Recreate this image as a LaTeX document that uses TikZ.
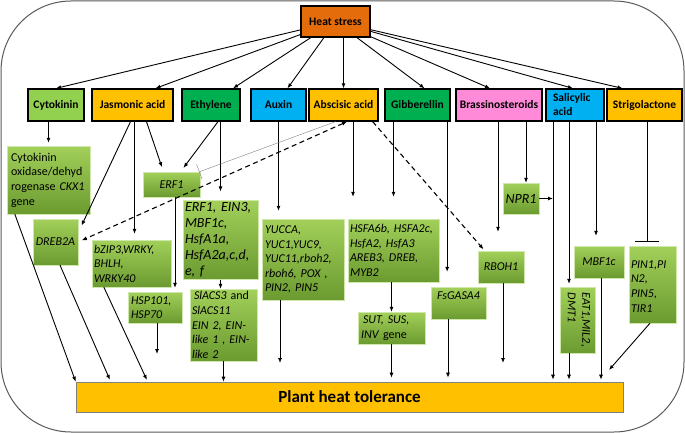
\documentclass[tikz,border=0pt]{standalone}
\usepackage{fontspec}
\usepackage{graphicx}
\setmainfont{Carlito}
\usetikzlibrary{positioning}
\usetikzlibrary{arrows.meta}
\definecolor{heatorange}{HTML}{E46C0A}
\definecolor{jasyellow}{HTML}{FFC000}
\definecolor{ethgreen}{HTML}{00B050}
\definecolor{cytgreen}{HTML}{92D050}
\definecolor{auxblue}{HTML}{00B0F0}
\definecolor{brapink}{HTML}{FF8AD8}
\definecolor{genetop}{HTML}{A2D05A}
\definecolor{genebot}{HTML}{6B9A30}
\definecolor{framegray}{HTML}{595959}
\tikzset {
  % hormone boxes
  hormone/.style={draw=black, line width=1.3pt, minimum height=32pt, inner sep=1pt,
    font=\bfseries\fontsize{11.5}{12}\selectfont},
  % gene boxes with green gradient
  gene/.style={top color=genetop, bottom color=genebot, draw=genetop!50!white,
    line width=0.3pt, inner xsep=3pt, inner ysep=2pt, align=left,
    font=\itshape\fontsize{12}{14.6}\selectfont},
  genebig/.style={gene, font=\itshape\fontsize{14}{16}\selectfont},
  geneup/.style={gene, font=\fontsize{12}{14.6}\selectfont},
  % connectors
  arr/.style={-{Latex[length=5pt,width=4pt]}, line width=0.9pt},
  dasharr/.style={arr, dash pattern=on 5pt off 3.5pt, line width=1.1pt},
  inhib/.style={-{Bar[width=16pt]}, line width=0.4pt, gray},
  inhibbold/.style={-{Bar[width=24pt]}, line width=0.9pt},
}
\begin{document}
\begin{tikzpicture}[x=1pt, y=-1pt]
  \useasboundingbox (0,0) rectangle (685,433);
  \draw[framegray, line width=1pt, rounded corners=70pt] (1,1) rectangle (684,432);

  % top
  \node[hormone, fill=heatorange, minimum width=69pt, minimum height=31pt] (heat) at (335.5,21.5) {Heat stress};

  % hormones
  \node[hormone, fill=cytgreen, minimum width=56pt] (cyt) at (56,105) {Cytokinin};
  \node[hormone, fill=jasyellow, minimum width=81pt] (jas) at (132.5,105) {Jasmonic acid};
  \node[hormone, fill=ethgreen, minimum width=58pt] (eth) at (211,105) {Ethylene};
  \node[hormone, fill=auxblue, minimum width=55pt] (aux) at (278.5,105) {Auxin};
  \node[hormone, fill=jasyellow, minimum width=69pt] (abs) at (343.5,105) {Abscisic acid};
  \node[hormone, fill=ethgreen, minimum width=65pt] (gib) at (417.5,105) {Gibberellin};
  \node[hormone, fill=brapink, minimum width=86pt] (bra) at (499,105) {Brassinosteroids};
  \node[hormone, fill=auxblue, text width=44pt, inner xsep=7pt, align=left,
    font=\bfseries\fontsize{11.5}{14}\selectfont] (sal) at (575,105) {Salicylic\\acid};
  \node[hormone, fill=jasyellow, minimum width=75pt] (str) at (644.5,105) {Strigolactone};

  % genes
  \node[geneup, text width=75pt, inner xsep=4pt, minimum height=68pt] (ckx) at (48.5,180)
    {Cytokinin\\oxidase/dehyd\\rogenase \textit{CKX1}\\gene};
  \node[gene, align=center, minimum width=57pt, minimum height=25pt] (erfa) at (171.5,184.5) {ERF1};
  \node[gene, align=center, minimum width=45pt, minimum height=46pt, inner xsep=1pt] (dreb) at (55.5,242) {DREB2A};
  \node[gene, text width=75pt, inner xsep=2pt, minimum height=47pt] (bzip) at (131.5,263.5) {bZIP3,WRKY,\\BHLH,\\WRKY40};
  \node[genebig, text width=71pt, inner xsep=2pt, minimum height=76pt] (erfb) at (220.5,240)
    {ERF1, EIN3,\\MBF1c,\\HsfA1a,\\HsfA2a,c,d,\\e, f};
  \node[gene, text width=48pt, minimum height=31pt] (hsp) at (155,307.5) {HSP101,\\HSP70};
  \node[geneup, text width=63pt, inner xsep=2pt, minimum height=72pt] (slacs) at (223.5,325)
    {\,\textit{SlACS3} and\\\textit{SlACS11}\\\textit{EIN 2, EIN-}\\\textit{like 1 , EIN-}\\\textit{like 2}};
  \node[gene, text width=76pt, minimum height=81pt] (yuc) at (303,259.5)
    {YUCCA,\\YUC1,YUC9,\\YUC11,rboh2,\\rboh6, POX ,\\PIN2, PIN5};
  \node[gene, text width=87pt, inner xsep=2pt, minimum height=63pt] (hsfa) at (393.5,250.5)
    {HSFA6b, HSFA2c,\\HsfA2, HsfA3\\AREB3, DREB,\\MYB2};
  \node[genebig, align=center, minimum width=36pt, minimum height=31pt, inner xsep=1pt] (npr) at (521,198.5) {NPR1};
  \node[gene, align=center, minimum width=46pt, minimum height=32pt, inner xsep=1pt] (rboh) at (501,267) {RBOH1};
  \node[gene, align=center, minimum width=55pt, minimum height=32pt, text depth=14pt] (gasa) at (458.5,303) {FsGASA4};
  \node[geneup, text width=61pt, minimum height=32pt] (sut) at (391.5,328) {\,\textit{SUT, SUS,}\\\textit{INV} gene};
  \node[gene, align=center, minimum width=50pt, minimum height=32pt] (mbf) at (599,262) {MBF1c};
  \node[gene, minimum width=32pt, minimum height=66pt] (eat) at (578,320)
    {\rotatebox{-90}{\begin{tabular}{@{}l@{}}EAT1,MIL2,\\DMT1\end{tabular}}};
  \node[gene, text width=43pt, inner xsep=2pt, minimum height=77pt, text depth=40pt] (pin) at (652.5,284.5)
    {PIN1,PI\\N2,\\PIN5,\\TIR1};

  % bottom
  \node[fill=jasyellow, draw=gray, line width=0.6pt, minimum width=547pt, minimum height=30pt,
    font=\bfseries\fontsize{17}{18}\selectfont] (tol) at (349.5,397) {Plant heat tolerance};

  % free ends
  \coordinate (hspend) at (157,354);
  \coordinate (yucend) at (280,363);
  \coordinate (rbohend) at (503,363);
  \coordinate (pinend) at (609,370);

  % heat stress to hormones
  \draw[arr] (heat) -- (cyt.north);
  \draw[arr] (heat) -- ([xshift=23pt]jas.north);
  \draw[arr] (heat) -- ([xshift=22pt]eth.north);
  \draw[arr] (heat) -- ([xshift=9pt]aux.north);
  \draw[arr] (heat.south -| abs) -- (abs.north);
  \draw[arr] (heat) -- ([xshift=7pt]gib.north);
  \draw[arr] (heat) -- ([xshift=-9pt]bra.north);
  \draw[arr] (heat) -- ([xshift=-2pt]sal.north);
  \draw[arr] (heat) -- ([xshift=-22pt]str.north);

  % cytokinin and jasmonic acid
  \draw[arr, shorten >=3pt] (ckx.north |- cyt.south) -- (ckx.north);
  \draw[arr, shorten >=5pt] ([xshift=14pt]jas.south) -- ([xshift=-8pt]erfa.north);
  \draw[arr, shorten >=8pt] ([xshift=-2pt]jas.south) -- ([yshift=-14pt]dreb.north east);
  \draw[arr, shorten >=6pt] ([xshift=3pt]bzip.north |- jas.south) -- ([xshift=3pt]bzip.north);

  % ethylene
  \draw[arr, shorten >=5pt] ([xshift=7pt]eth.south) -- ([xshift=9pt]erfa.north);
  \draw[arr, shorten >=9pt] (erfb.north |- eth.south) -- (erfb.north);
  \draw[arr, shorten >=4pt] ([xshift=3.5pt]erfa.south) -- ([xshift=3.5pt]erfa.south |- hsp.north);
  \draw[arr] (erfb.south) -- (erfb.south |- slacs.north);
  \draw[arr] (hsp.south -| hspend) -- (hspend);

  % auxin
  \draw[arr, shorten >=8pt] (aux.south) -- (aux.south |- yuc.north);
  \draw[arr] (yuc.south -| yucend) -- (yucend);

  % abscisic acid
  \draw[inhib] ([xshift=-8pt]abs.south) -- ([xshift=-1pt]erfa.north east);
  \draw[dasharr, {Latex[length=5pt,width=4pt]}-{Latex[length=5pt,width=4pt]}, shorten >=4pt]
    ([xshift=3.5pt]abs.south) -- (dreb.east);
  \draw[dasharr, shorten >=2pt] ([xshift=-6pt]abs.south east) -- ([xshift=7pt]rboh.north west);
  \draw[arr, shorten >=22pt] ([xshift=9.5pt]abs.south) -- ([xshift=9.5pt]abs.south |- hsfa.north);

  % gibberellin
  \draw[arr, shorten >=22pt] (hsfa.north |- gib.south) -- (hsfa.north);
  \draw[arr, shorten >=15pt] ([xshift=-3.5pt]gib.south east) -- ([xshift=-3.5pt]gib.south east |- gasa.north);
  \draw[arr] (sut.north |- hsfa.south) -- (sut.north);

  % brassinosteroids
  \draw[arr, shorten >=19pt] ([xshift=-1pt]bra.south) -- ([xshift=-1pt]bra.south |- rboh.north);
  \draw[arr] ([xshift=27pt]bra.south) -- ([xshift=27pt]bra.south |- npr.north);
  \draw[arr] (rboh.south -| rbohend) -- (rbohend);

  % salicylic acid
  \coordinate (salline) at ([xshift=-22pt]sal.south);
  \draw[arr] (npr.east) -- (npr.east -| salline);
  \draw[arr, shorten >=3pt] ([xshift=-9pt]eat.north |- sal.south) -- ([xshift=-9pt]eat.north);
  \draw[arr, shorten >=10pt] ([xshift=-3pt]mbf.north |- sal.south) -- ([xshift=-3pt]mbf.north);

  % strigolactone
  \draw[inhibbold, shorten >=4pt] ([xshift=2.5pt]str.south) -- ([xshift=2.5pt]str.south |- pin.north);
  \draw[arr] ([xshift=-2.5pt]pin.south) -- (pinend);

  % to plant heat tolerance
  \draw[arr] ([xshift=8pt]ckx.south west) -- (tol.north west);
  \draw[arr, shorten >=2pt] ([xshift=4.5pt]dreb.south) -- ([xshift=35pt]tol.north west);
  \draw[arr, shorten >=2pt] ([xshift=12pt]bzip.south west) -- ([xshift=72pt]tol.north west);
  \draw[arr] (slacs.south) -- (slacs.south |- tol.north);
  \draw[arr, shorten >=4pt] ([xshift=-10.5pt]gasa.south) -- ([xshift=-10.5pt]gasa.south |- tol.north);
  \draw[arr, shorten >=4pt] (sut.south) -- (sut.south |- tol.north);
  \draw[arr, shorten >=2pt] (salline) -- (salline |- tol.north);
  \draw[arr, shorten >=2pt] ([xshift=-9pt]eat.south) -- ([xshift=-9pt]eat.south |- tol.north);
  \draw[arr, shorten >=2pt] ([xshift=2pt]mbf.south) -- ([xshift=2pt]mbf.south |- tol.north);
\end{tikzpicture}
\end{document}
